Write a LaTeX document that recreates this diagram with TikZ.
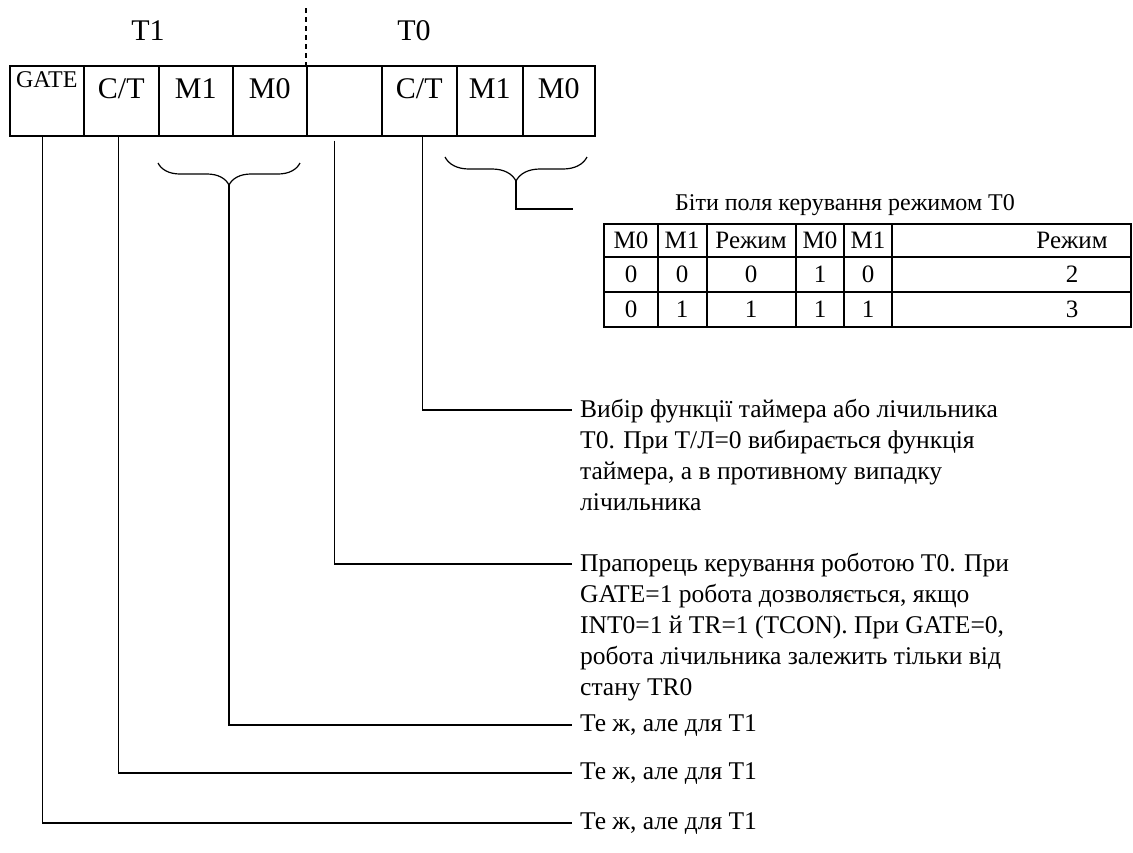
\documentclass[tikz,border=0pt]{standalone}
\usepackage{fontspec}
\setmainfont{Liberation Serif}
\usetikzlibrary{decorations.pathreplacing}
\tikzset{
  cell/.style={draw,line width=1.6pt,minimum height=70pt,inner sep=0pt,anchor=north west},
  celltxt/.style={anchor=north,inner sep=0pt,font=\fontsize{30}{32}\selectfont},
  note/.style={anchor=north west,align=left,inner sep=0pt,font=\fontsize{25.5}{31}\selectfont},
  tab/.style={inner sep=0pt,font=\fontsize{25}{26}\selectfont},
  wire/.style={line width=1.2pt}
}
\begin{document}
\begin{tikzpicture}[x=1pt,y=-1pt]
\useasboundingbox (0,0) rectangle (1133,852);
% register cells
\foreach \x/\w/\name in {9/74/gate,83/75/ctA,158/74/mAa,232/74/mAb,306/75/emp,381/75/ctB,456/66/mBa,522/72/mBb}
  \node[cell,minimum width=\w pt] (\name) at (\x,65) {};
\foreach \name/\txt in {ctA/{C/T},mAa/M1,mAb/M0,ctB/{C/T},mBa/M1,mBb/M0}
  \node[celltxt] at ([yshift=-13pt]\name.north) {\txt};
\node[celltxt,font=\fontsize{24}{26}\selectfont] at ([yshift=-6pt]gate.north) {GATE};
\node[celltxt] (tA) at (148,20) {T1};
\node[celltxt] (tB) at (414,20) {T0};
\draw[line width=1.4pt,dash pattern=on 5pt off 4pt] (306,8) -- (emp.north west);
% braces
\draw[wire,decorate,decoration={brace,mirror,amplitude=22pt}] (158,163) -- (300,163);
\draw[wire,decorate,decoration={brace,mirror,amplitude=24pt}] (445,157) -- (587,157);
\coordinate (brA) at (229,185);
\coordinate (brB) at (516,181);
\coordinate (brBend) at (573,209);
% mode table
\node[font=\fontsize{24}{26}\selectfont] (ttl) at (845,205) {Біти поля керування режимом T0};
\draw[line width=1.6pt] (604,224) rectangle (1131,327);
\foreach \y in {257,292} \draw[line width=1.6pt] (604,\y) -- (1131,\y);
\foreach \x in {658,707,796,844,892} \draw[line width=1.6pt] (\x,224) -- (\x,327);
\foreach \x/\a/\b/\c in {631/M0/0/0,682/M1/0/1,751/Режим/0/1,820/M0/1/1,868/M1/0/1,1072/Режим/2/3}
{
\node[tab] at (\x,240) {\a};
\node[tab] at (\x,274) {\b};
\node[tab] at (\x,309) {\c};
}
% notes
\node[note] (nB) at (580,399) {Вибір функції таймера або лічильника\\T0. При Т/Л=0 вибирається функція\\таймера, а в противному випадку\\лічильника};
\node[note] (nE) at (580,553) {Прапорець керування роботою T0. При\\GATE=1 робота дозволяється, якщо\\INT0=1 й TR=1 (TCON). При GATE=0,\\робота лічильника залежить тільки від\\стану TR0};
\node[note] (nM) at (580,714) {Те ж, але для T1};
\node[note] (nC) at (580,762) {Те ж, але для T1};
\node[note] (nG) at (580,812) {Те ж, але для T1};
% connectors
\draw[wire] ([xshift=3pt]ctB.south) |- ([xshift=-8pt,yshift=-11pt]nB.north west);
\draw[wire] ([xshift=-10pt,yshift=-4pt]emp.south) |- ([xshift=-8pt,yshift=-11pt]nE.north west);
\draw[wire] (brA) |- ([xshift=-8pt,yshift=-11pt]nM.north west);
\draw[wire] ([xshift=-3pt]ctA.south) |- ([xshift=-8pt,yshift=-11pt]nC.north west);
\draw[wire] ([xshift=-4pt]gate.south) |- ([xshift=-8pt,yshift=-11pt]nG.north west);
\draw[wire] (brB) |- (brBend);
\end{tikzpicture}
\end{document}
